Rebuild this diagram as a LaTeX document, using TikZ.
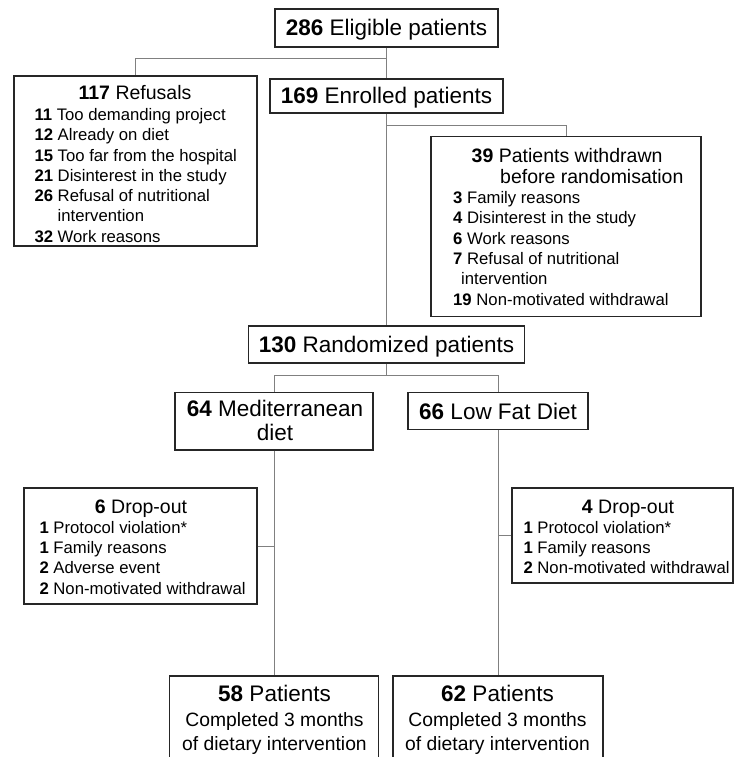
\documentclass[tikz,border=0pt]{standalone}
\usepackage{fontspec}
\setmainfont{Liberation Sans}
\begin{document}
\begin{tikzpicture}[x=1pt,y=-1pt,
  box/.style={draw=black!85, line width=1.2pt, inner sep=0pt, fill=white},
  conn/.style={draw=black!50, line width=0.9pt},
  big/.style={font=\fontsize{22.5}{26}\selectfont},
  one/.style={big, text height=16pt, text depth=0pt},
  ttl/.style={inner sep=0pt, font=\fontsize{19.5}{20.2}\selectfont},
  lst/.style={inner sep=0pt, font=\fontsize{16.7}{20.3}\selectfont, anchor=base west},
  body/.style={inner sep=0pt, font=\fontsize{19.3}{24}\selectfont, anchor=base}]
\useasboundingbox (0,0) rectangle (735,757);
\clip (0,0) rectangle (735,757);

% junctions
\coordinate (j1) at (386.5,58);
\coordinate (j2) at (386.5,125);
\coordinate (j3) at (386.5,375);

% boxes
\node[box, one, minimum width=223pt, minimum height=38pt] (b286) at (386.5,28) {\textbf{286} Eligible patients};
\node[box, minimum width=243pt, minimum height=170pt] (ref) at (135.5,161) {};
\node[box, one, minimum width=233pt, minimum height=34pt] (enr) at (386.5,96) {\textbf{169} Enrolled patients};
\node[box, minimum width=270pt, minimum height=180pt] (w39) at (566,226.5) {};
\node[box, one, minimum width=276pt, minimum height=37pt] (rand) at (386.5,344.5) {\textbf{130} Randomized patients};
\node[box, minimum width=198pt, minimum height=57.5pt] (med) at (274,421.2) {};
\node[box, one, minimum width=180pt, minimum height=36.5pt] (low) at (498,411) {\textbf{66} Low Fat Diet};
\node[box, minimum width=233pt, minimum height=116pt] (do1) at (140.5,546) {};
\node[box, minimum width=221pt, minimum height=95pt] (do2) at (622.5,535.5) {};
\node[box, minimum width=209pt, minimum height=110pt] (p58) at (274,731) {};
\node[box, minimum width=210pt, minimum height=110pt] (p62) at (498,731) {};

% connectors
\draw[conn] (b286.south) -- (enr.north);
\draw[conn] (j1) -| (ref.north);
\draw[conn] (enr.south) -- (rand.north);
\draw[conn] (j2) -| (w39.north);
\draw[conn] (rand.south) -- (j3);
\draw[conn] (med.north) -- (med.north |- j3) -- (low.north |- j3) -- (low.north);
\draw[conn] (med.south) -- (p58.north);
\draw[conn] (low.south) -- (p62.north);
\draw[conn] (do1.east) -- (do1.east -| med.south);
\draw[conn] (do2.west) -- (do2.west -| low.south);

% Refusals
\node[ttl, anchor=base] (refT) at (135,100) {\textbf{117} Refusals};
\node[lst] (refL) at (34.3,120.5) {\begin{tabular}[t]{@{}l@{}}
\textbf{11} Too demanding project\\
\textbf{12} Already on diet\\
\textbf{15} Too far from the hospital\\
\textbf{21} Disinterest in the study\\
\textbf{26} Refusal of nutritional\\
\hphantom{\textbf{26}~}intervention\\
\textbf{32} Work reasons
\end{tabular}};

% Withdrawn
\node[ttl, anchor=base west] (w39T1) at (471.5,162) {\textbf{39} Patients withdrawn};
\node[ttl, anchor=base west] (w39T2) at (500,183.5) {before randomisation};
\node[lst] (w39L) at (453,203.5) {\begin{tabular}[t]{@{}l@{}}
\textbf{3} Family reasons\\
\textbf{4} Disinterest in the study\\
\textbf{6} Work reasons\\
\textbf{7} Refusal of nutritional\\
\hspace{8pt}intervention\\
\textbf{19} Non-motivated withdrawal
\end{tabular}};

% Mediterranean
\node[big, inner sep=0pt, anchor=base] (medT1) at (275,416.7) {\textbf{64} Mediterranean};
\node[big, inner sep=0pt, anchor=base] (medT2) at (275,440) {diet};

% Drop-outs
\node[ttl, anchor=base] (do1T) at (141,513.3) {\textbf{6} Drop-out};
\node[lst] (do1L) at (39.3,533.3) {\begin{tabular}[t]{@{}l@{}}
\textbf{1} Protocol violation*\\
\textbf{1} Family reasons\\
\textbf{2} Adverse event\\
\textbf{2} Non-motivated withdrawal
\end{tabular}};
\node[ttl, anchor=base] (do2T) at (628,513.3) {\textbf{4} Drop-out};
\node[lst] (do2L) at (523.3,533.3) {\begin{tabular}[t]{@{}l@{}}
\textbf{1} Protocol violation*\\
\textbf{1} Family reasons\\
\textbf{2} Non-motivated withdrawal
\end{tabular}};

% Completed
\node[big, inner sep=0pt, anchor=base] (p58T) at (274.5,701.7) {\textbf{58} Patients};
\node[body] (p58B) at (274.5,726.7) {\begin{tabular}[t]{@{}c@{}}Completed 3 months\\ of dietary intervention\end{tabular}};
\node[big, inner sep=0pt, anchor=base] (p62T) at (497.5,701.7) {\textbf{62} Patients};
\node[body] (p62B) at (497.5,726.7) {\begin{tabular}[t]{@{}c@{}}Completed 3 months\\ of dietary intervention\end{tabular}};
\end{tikzpicture}
\end{document}
